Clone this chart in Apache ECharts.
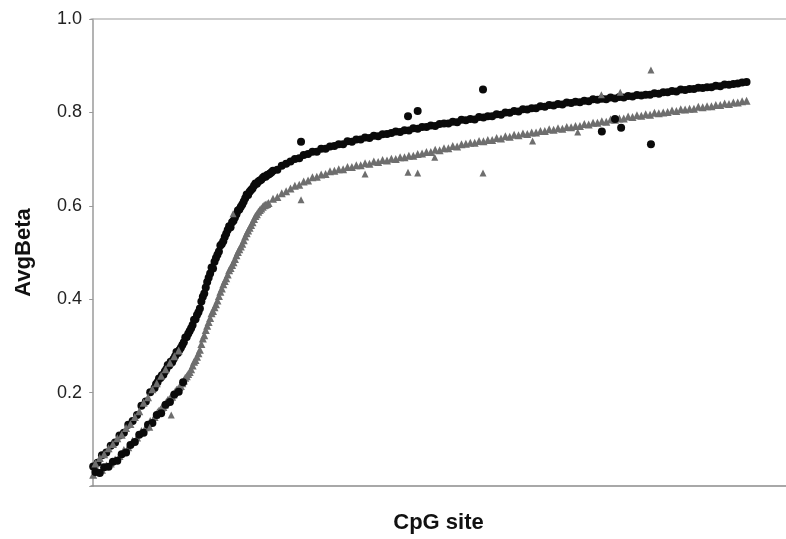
<!DOCTYPE html>
<html>
<head>
<meta charset="utf-8">
<script src="https://cdn.jsdelivr.net/npm/echarts@6/dist/echarts.min.js"></script>
<style>
html,body{margin:0;padding:0;background:#fff;}
#c{width:786px;height:539px;}
</style>
</head>
<body>
<div id="c"></div>
<script>
// Y axis ticks
const yTicks = [0.2, 0.4, 0.6, 0.8, 1.0];
const xTitle = 'CpG site';
const yTitle = 'AvgBeta';

// Black circles: main (upper) curve, one value per CpG site index 0..149
const blackMain = [
0.042,0.050,0.066,0.072,0.086,0.093,0.108,0.114,0.131,0.139,
0.152,0.172,0.181,0.201,0.210,0.230,0.238,0.259,0.265,0.287,
0.296,0.318,0.332,0.356,0.372,0.405,0.437,0.468,0.488,0.515,
0.533,0.556,0.568,0.590,0.603,0.624,0.634,0.648,0.654,0.663,
0.667,0.675,0.677,0.686,0.690,0.695,0.700,0.702,0.709,0.711,
0.716,0.716,0.722,0.722,0.727,0.728,0.732,0.732,0.738,0.737,
0.742,0.742,0.746,0.745,0.750,0.749,0.753,0.754,0.756,0.759,
0.758,0.762,0.761,0.766,0.765,0.769,0.769,0.772,0.771,0.775,
0.776,0.776,0.780,0.779,0.784,0.783,0.786,0.785,0.790,0.789,
0.792,0.792,0.796,0.795,0.800,0.799,0.803,0.802,0.807,0.806,
0.809,0.809,0.813,0.812,0.816,0.815,0.818,0.817,0.821,0.820,
0.823,0.822,0.825,0.824,0.828,0.827,0.829,0.828,0.832,0.830,
0.833,0.832,0.835,0.834,0.837,0.836,0.838,0.838,0.841,0.840,
0.843,0.843,0.846,0.845,0.849,0.848,0.850,0.850,0.853,0.852,
0.854,0.854,0.857,0.856,0.860,0.859,0.861,0.862,0.864,0.865
];

// Gray triangles: main (lower) curve, one value per CpG site index 0..149
const grayMain = [
0.024,0.033,0.035,0.044,0.048,0.057,0.064,0.077,0.083,0.097,
0.104,0.118,0.126,0.139,0.148,0.161,0.169,0.184,0.191,0.206,
0.214,0.232,0.244,0.266,0.284,0.316,0.343,0.370,0.389,0.416,
0.439,0.462,0.479,0.501,0.519,0.541,0.559,0.578,0.591,0.601,
0.606,0.615,0.619,0.627,0.631,0.637,0.643,0.645,0.652,0.654,
0.661,0.662,0.667,0.668,0.674,0.675,0.678,0.678,0.683,0.683,
0.687,0.687,0.691,0.690,0.695,0.694,0.698,0.697,0.701,0.700,
0.704,0.704,0.707,0.707,0.711,0.712,0.715,0.715,0.720,0.719,
0.723,0.723,0.728,0.727,0.732,0.733,0.735,0.735,0.739,0.738,
0.741,0.741,0.745,0.744,0.749,0.748,0.752,0.751,0.755,0.754,
0.757,0.757,0.760,0.760,0.764,0.763,0.766,0.765,0.769,0.768,
0.771,0.771,0.775,0.774,0.778,0.778,0.781,0.780,0.785,0.784,
0.787,0.787,0.791,0.790,0.794,0.793,0.796,0.795,0.799,0.798,
0.800,0.801,0.804,0.803,0.807,0.806,0.808,0.808,0.812,0.811,
0.813,0.813,0.816,0.816,0.819,0.818,0.821,0.821,0.824,0.825
];

// Extra black sites in the steep part of the curve  [site, value]
const blackSteep = [
[14.33,0.218],[14.67,0.222],[15.33,0.231],[15.67,0.237],[16.33,0.245],[16.67,0.250],
[17.33,0.258],[17.67,0.266],[18.33,0.272],[18.67,0.278],[19.33,0.285],[19.67,0.291],
[20.33,0.302],[20.67,0.308],[21.33,0.319],[21.67,0.326],[22.33,0.338],[22.67,0.345],
[23.33,0.357],[23.67,0.366],[24.33,0.380],[24.67,0.395],[25.33,0.412],[25.67,0.425],
[26.33,0.446],[26.67,0.455],[27.33,0.466],[27.67,0.480],[28.33,0.495],[28.67,0.502],
[29.33,0.518],[29.67,0.524],[30.33,0.540],[30.67,0.548],[31.33,0.554],[31.67,0.565],
[32.33,0.575],[32.67,0.582],[33.33,0.592],[33.67,0.598],[34.33,0.609],[34.67,0.616],
[35.33,0.623],[35.67,0.630],[36.33,0.637],[36.67,0.643],[37.33,0.647],[37.67,0.652],
[38.33,0.656],[38.67,0.660],[39.33,0.662],[39.67,0.666],[40.33,0.669],[40.67,0.672]
];

// Extra gray sites in the steep part of the curve  [site, value]
const graySteep = [
[14.33,0.153],[14.67,0.158],[15.33,0.164],[15.67,0.168],[16.33,0.174],[16.67,0.180],
[17.33,0.186],[17.67,0.190],[18.33,0.196],[18.67,0.202],[19.33,0.207],[19.67,0.212],
[20.33,0.220],[20.67,0.226],[21.33,0.235],[21.67,0.240],[22.33,0.250],[22.67,0.258],
[23.33,0.270],[23.67,0.277],[24.33,0.292],[24.67,0.304],[25.33,0.323],[25.67,0.334],
[26.33,0.351],[26.67,0.360],[27.33,0.375],[27.67,0.383],[28.33,0.397],[28.67,0.407],
[29.33,0.423],[29.67,0.432],[30.33,0.445],[30.67,0.453],[31.33,0.467],[31.67,0.473],
[32.33,0.486],[32.67,0.494],[33.33,0.507],[33.67,0.513],[34.33,0.526],[34.67,0.534],
[35.33,0.547],[35.67,0.553],[36.33,0.565],[36.67,0.572],[37.33,0.582],[37.67,0.587],
[38.33,0.594],[38.67,0.598],[39.33,0.602],[39.67,0.604]
];

// Low-range sites where black circles sit on the lower band  [site, value]
const blackLow = [
[0.5,0.030],[1.5,0.028],[2.5,0.040],[3.5,0.041],[4.5,0.052],[5.5,0.054],[6.5,0.068],
[7.5,0.072],[8.5,0.088],[9.5,0.094],[10.5,0.110],[11.5,0.114],[12.5,0.131],[13.5,0.135],
[14.5,0.152],[15.5,0.156],[16.5,0.174],[17.5,0.180],[18.5,0.196],[19.5,0.202],[20.5,0.222]
];

// Low-range sites where gray triangles sit on the upper band  [site, value]
const grayHigh = [
[0.5,0.048],[1.5,0.060],[2.5,0.068],[3.5,0.081],[4.5,0.090],[5.5,0.102],[6.5,0.110],
[7.5,0.124],[8.5,0.133],[9.5,0.148],[10.5,0.160],[11.5,0.178],[12.5,0.190],[13.5,0.207],
[14.5,0.220],[15.5,0.236],[16.5,0.250],[17.5,0.264],[18.5,0.278],[19.5,0.290]
];

// Scattered black outliers  [site, value]
const blackOut = [
[47.4,0.737],[71.8,0.792],[74.0,0.803],[88.9,0.849],[116.0,0.759],
[120.4,0.767],[119.0,0.786],[127.2,0.732]
];

// Scattered gray outliers  [site, value]
const grayOut = [
[12.9,0.126],[17.8,0.152],[31.9,0.583],[47.4,0.613],[62.0,0.668],[71.8,0.672],
[74.0,0.670],[77.9,0.704],[88.9,0.670],[100.2,0.739],[110.5,0.758],
[115.9,0.838],[120.2,0.843],[127.2,0.891]
];

const BLACK = '#0a0a0a';
const GRAY = '#6e6e6e';
const toPairs = arr => arr.map((v, i) => [i, v]);

const X_MIN = -0.5, X_MAX = 158;
const chart = echarts.init(document.getElementById('c'), null, {renderer: 'canvas'});

function sc(name, data, color, symbol, size, z) {
  return {
    name: name, type: 'scatter', xAxisIndex: 0, yAxisIndex: 0,
    data: data, symbol: symbol, symbolSize: size, z: z,
    itemStyle: {color: color, opacity: 1},
    emphasis: {disabled: true}, silent: true
  };
}

chart.setOption({
  animation: false,
  backgroundColor: '#ffffff',
  textStyle: {fontFamily: '"Liberation Sans", Arial, sans-serif'},
  grid: {left: 91, top: 19, right: 0, bottom: 50, containLabel: false},
  xAxis: [{
    type: 'value', min: X_MIN, max: X_MAX, position: 'bottom',
    name: xTitle, nameLocation: 'middle', nameGap: 26,
    nameTextStyle: {fontFamily: '"Liberation Sans", Arial, sans-serif', fontWeight: 'bold', fontSize: 22, color: '#111'},
    axisLine: {show: true, lineStyle: {color: '#8c8c8c', width: 1.5}},
    axisTick: {show: false}, axisLabel: {show: false}, splitLine: {show: false}
  }, {
    type: 'value', min: X_MIN, max: X_MAX, position: 'top',
    axisLine: {show: true, lineStyle: {color: '#bdbdbd', width: 1.5}},
    axisTick: {show: false}, axisLabel: {show: false}, splitLine: {show: false}
  }],
  yAxis: {
    type: 'value', min: 0, max: 1, interval: 0.2,
    name: yTitle, nameLocation: 'middle', nameGap: 56, nameRotate: 90,
    nameTextStyle: {fontFamily: '"Liberation Sans", Arial, sans-serif', fontWeight: 'bold', fontSize: 22, color: '#111'},
    axisLine: {show: true, lineStyle: {color: '#9a9a9a', width: 1.5}},
    axisTick: {show: true, length: 4, inside: false, lineStyle: {color: '#9a9a9a'}},
    axisLabel: {
      show: true, margin: 9, fontSize: 18, color: '#222',
      fontFamily: '"Liberation Sans", Arial, sans-serif',
      formatter: function (v) {
        const hit = yTicks.find(t => Math.abs(t - v) < 1e-9);
        return hit === undefined ? '' : hit.toFixed(1);
      }
    },
    splitLine: {show: false}
  },
  series: [
    sc('gray', toPairs(grayMain), GRAY, 'triangle', 8, 2),
    sc('graySteep', graySteep, GRAY, 'triangle', 8, 2),
    sc('black', toPairs(blackMain), BLACK, 'circle', 8, 3),
    sc('blackSteep', blackSteep, BLACK, 'circle', 8, 3),
    sc('grayHigh', grayHigh, GRAY, 'triangle', 8, 4),
    sc('blackLow', blackLow, BLACK, 'circle', 8, 4),
    sc('blackOut', blackOut, BLACK, 'circle', 8, 5),
    sc('grayOut', grayOut, GRAY, 'triangle', 7, 5)
  ]
});
</script>
</body>
</html>
